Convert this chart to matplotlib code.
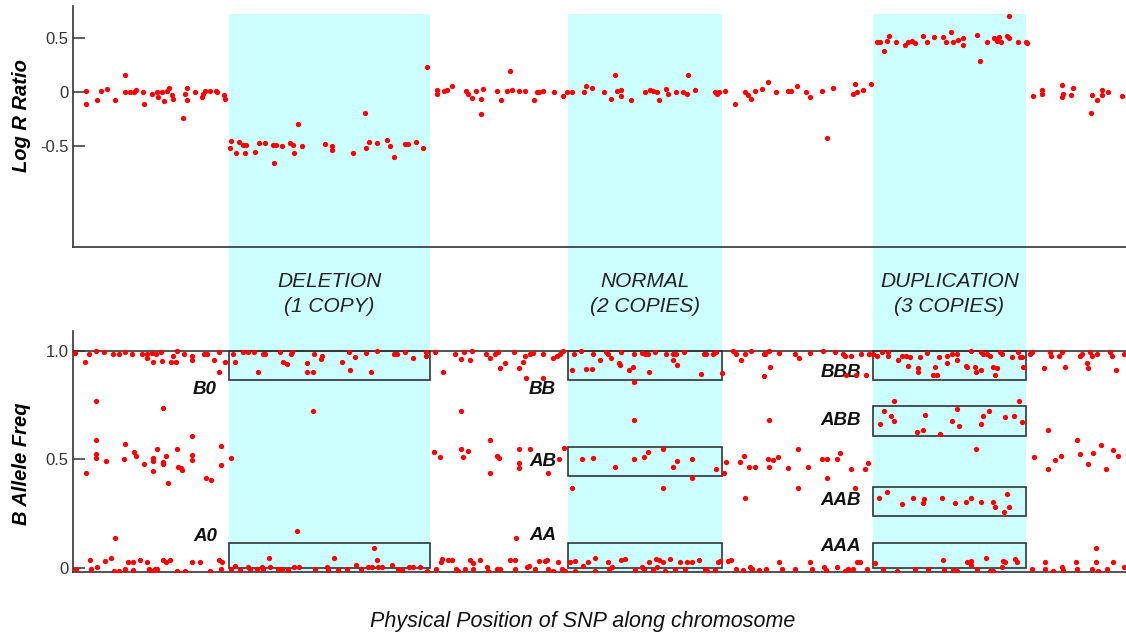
import matplotlib.pyplot as plt
from matplotlib.patches import Rectangle
from matplotlib.transforms import blended_transform_factory

plt.rcParams['font.family'] = ['Liberation Sans', 'DejaVu Sans']

# SNP positions (arbitrary units along chromosome) and Log R Ratio
lrr_pos = [13, 13, 24, 28, 34, 42, 52, 52, 57, 61, 63, 70, 71, 79, 84, 85, 89, 91, 94, 96,
           99, 100, 110, 112, 114, 114, 122, 129, 130, 132, 137, 143, 144, 151, 152,
           158, 157, 163, 166, 170, 172, 173, 182, 186, 192, 200, 201, 203, 209, 217, 220,
           221, 225, 229, 252, 259, 259, 280, 292, 293, 296, 304, 314, 317, 321, 332, 335,
           343, 350, 354,
           364, 364, 371, 374, 379, 393, 395, 399, 403, 408, 408, 410, 424, 428, 434, 437,
           439, 446, 452, 461, 464, 466, 470, 481, 490, 494, 499,
           511, 513, 519, 531, 538, 542, 544, 548, 548, 558, 572, 577, 580, 584, 586, 593,
           595, 603, 610, 614, 615, 622, 642, 644, 646,
           652, 662, 672, 675, 678, 682, 689, 695, 703, 715, 718, 724, 733, 737, 749, 754,
           760, 780, 782, 784, 790, 798,
           804, 807, 811, 814, 816, 823, 832, 835, 839, 842, 850, 854, 861, 870, 873, 878,
           880, 885, 890, 890, 904, 907, 914, 921, 924, 926, 928, 934, 936, 936, 945, 953, 954,
           960, 969, 969, 989, 989, 990, 998, 1000, 1018, 1019, 1024, 1029, 1029, 1035, 1049]
lrr_val = [0.01, -0.11, -0.07, 0.01, 0.03, -0.07, 0.16, 0.0, 0.0, 0.0, 0.02, 0.0, -0.11, -0.01,
           0.0, -0.04, 0.0, -0.08, 0.01, 0.04, -0.02, -0.06, -0.24, -0.01, 0.04, -0.07, 0.0,
           -0.04, -0.01, 0.01, 0.01, 0.01, 0.0, -0.02, -0.06,
           -0.45, -0.51, -0.56, -0.46, -0.49, -0.56, -0.49, -0.55, -0.47, -0.47, -0.49, -0.65,
           -0.49, -0.5, -0.47, -0.49, -0.56, -0.29, -0.5, -0.48, -0.5, -0.53, -0.56, -0.19,
           -0.51, -0.46, -0.47, -0.44, -0.5, -0.6, -0.48, -0.48, -0.46, -0.51, 0.24,
           0.02, -0.01, 0.01, 0.02, 0.06, 0.01, -0.01, -0.05, 0.01, -0.2, -0.06, 0.03, 0.01,
           -0.07, 0.01, 0.2, 0.02, 0.01, 0.01, -0.07, 0.0, 0.0, 0.01, 0.0, -0.03, 0.0, 0.0,
           0.0, 0.06, 0.04, 0.0, -0.06, 0.16, 0.01, 0.02, -0.03, -0.07, 0.0, 0.02, 0.01, 0.0,
           -0.07, 0.03, -0.01, 0.0, 0.0, -0.01, 0.16, 0.02, 0.0, -0.01, 0.0,
           0.01, -0.11, 0.0, -0.02, -0.06, 0.01, 0.03, 0.1, 0.0, 0.01, 0.01, 0.06, 0.0, -0.04,
           0.01, -0.42, 0.04, -0.01, 0.08, 0.0, 0.02, 0.08,
           0.47, 0.47, 0.38, 0.48, 0.52, 0.47, 0.44, 0.47, 0.48, 0.46, 0.52, 0.47, 0.51, 0.51,
           0.47, 0.56, 0.47, 0.49, 0.5, 0.44, 0.53, 0.29, 0.47, 0.5, 0.48, 0.51, 0.47, 0.52,
           0.71, 0.5, 0.47, 0.47, 0.46,
           -0.03, 0.02, -0.01, 0.07, -0.04, -0.01, -0.02, 0.04, -0.19, -0.02, -0.07, 0.02,
           -0.02, 0.0, -0.03]

# B Allele Freq
baf_pos = [2, 12, 16, 23, 31, 40, 46, 52, 59, 69, 74, 74, 79, 80, 83, 88, 89, 98, 100, 103,
           104, 111, 119, 119, 131, 134, 141, 146, 146, 152,
           160, 162, 170, 175, 181, 185, 190, 192, 207, 210, 214, 218, 219, 234, 234, 240,
           241, 248, 249, 269, 276, 277, 282, 293, 298, 304, 321, 324, 332, 340, 353, 353, 362,
           23, 90, 240, 23, 52, 119, 84, 104, 61, 23, 23, 63, 119, 148, 93, 51, 33, 80, 80,
           119, 158, 71, 90, 90, 105, 108, 109, 80, 148, 13, 133, 138, 95, 361, 367,
           42, 224, 301,
           3, 17, 18, 24, 32, 38, 41, 46, 52, 55, 60, 60, 67, 74, 76, 79, 82, 84, 90, 93, 97,
           104, 112, 119, 127, 137, 146, 148, 149,
           158, 162, 167, 175, 177, 184, 189, 190, 196, 197, 205, 209, 215, 221, 226, 242,
           254, 255, 261, 265, 274, 283, 288, 295, 299, 304, 305, 309, 319, 325, 329, 336,
           340, 347, 354,
           370, 382, 388, 391, 397, 399, 413, 417, 422, 425, 427, 432, 441, 446, 450, 452,
           453, 457, 460, 470, 470, 480, 484, 487, 490,
           499, 501, 508, 513, 519, 520, 527, 533, 535, 538, 546, 547, 548, 556, 560, 561,
           561, 569, 572, 575, 576, 582, 593, 600, 600, 603, 604, 611, 628, 631, 633, 640,
           643, 649,
           660, 663, 668, 672, 678, 691, 692, 696, 697, 706,
           388, 561, 696, 388, 390, 395, 417, 424, 426, 417, 446, 446, 446, 457, 475, 486, 491,
           499, 509, 520, 542, 561, 571, 575, 590, 590, 600, 604, 619, 619, 643,
           653, 651, 667, 671, 672, 676, 682, 695, 696, 700, 705, 715, 443,
           363, 368, 369, 375, 379, 383, 385, 392, 397, 400, 400, 407, 414, 415, 424, 427,
           437, 442, 442, 454, 456, 462, 466, 472, 474, 475, 480, 485, 489, 492,
           497, 502, 502, 510, 515, 522, 522, 535, 536, 539, 548, 552, 562, 569, 571, 576,
           580, 583, 584, 586, 590, 592, 597, 602, 607, 612, 614, 619, 626, 632, 634, 642,
           645, 647,
           655, 658, 663, 670, 677, 679, 686, 693, 706, 709,
           691, 722, 726, 737, 750, 762, 770, 772, 773, 778, 783, 788, 793, 796,
           800, 804, 809, 815, 815, 825, 829, 833, 835, 837, 845, 845, 847, 854, 860, 862,
           864, 866, 874, 874, 879, 884, 884, 893, 894, 898, 902, 903, 908, 908, 910, 914,
           917, 920, 922, 924, 927, 929, 939, 945, 947, 949, 950,
           957, 959, 971, 977, 978, 986, 989, 992, 1007, 1009, 1014, 1015, 1017, 1019, 1024,
           1037, 1039, 1043, 1051,
           725, 735, 749, 754, 764, 767, 778, 792, 795, 754, 725, 782,
           821, 811, 818, 821, 807, 852, 884, 879, 886, 916, 910, 908, 932, 941, 946, 949,
           844, 850, 867, 903,
           806, 814, 829, 840, 850, 851, 869, 882, 893, 898, 908, 920, 922, 934, 936, 931,
           975, 1004, 1028, 961, 988, 982, 1007, 1020, 1040, 1045, 1015, 975, 1033, 1023,
           722, 737, 739, 751, 753, 764, 772, 775, 780, 784, 787, 794,
           802, 810, 824, 842, 855, 870, 871, 880, 884, 894, 898, 898, 904, 913, 917, 920,
           929, 930, 932, 942, 944,
           959, 972, 972, 980, 989, 990, 1003, 1004, 1019, 1023, 1025, 1034, 1040, 1051]
baf_val = [0.99, 0.946, 0.986, 0.997, 0.994, 0.982, 0.982, 0.992, 0.982, 0.982, 0.986, 0.966,
           0.989, 0.946, 0.986, 0.992, 0.951, 0.946, 0.977, 0.946, 1.0, 0.982, 0.974, 0.955,
           0.986, 0.982, 0.955, 0.992, 0.90, 0.946,
           0.982, 0.946, 0.992, 0.992, 0.992, 0.90, 0.982, 0.982, 0.992, 0.946, 0.939, 0.982,
           0.992, 0.943, 0.90, 0.90, 0.985, 0.962, 0.977, 0.946, 0.992, 0.912, 0.971, 0.989,
           0.90, 1.0, 0.982, 0.986, 0.992, 0.966, 0.992, 0.974, 0.992,
           0.77, 0.736, 0.724, 0.59, 0.57, 0.605, 0.548, 0.548, 0.536, 0.524, 0.508, 0.516,
           0.521, 0.559, 0.516, 0.502, 0.493, 0.505, 0.493, 0.495, 0.508, 0.478, 0.487, 0.478,
           0.467, 0.459, 0.449, 0.447, 0.472, 0.436, 0.416, 0.406, 0.39, 0.536, 0.513,
           0.137, 0.17, 0.091,
           -0.006, 0.037, -0.006, 0.003, 0.034, 0.045, -0.012, -0.012, -0.006, 0.029, 0.029,
           -0.009, 0.037, 0.029, -0.006, -0.012, -0.006, -0.006, 0.037, 0.029, 0.037, -0.012,
           -0.012, 0.029, 0.029, -0.012, 0.037, -0.002, 0.029,
           -0.006, 0.009, -0.009, 0.003, -0.006, -0.006, 0.006, -0.006, 0.045, 0.003, -0.006,
           -0.006, -0.009, 0.003, 0.003, -0.006, 0.003, -0.009, 0.048, -0.009, -0.006, 0.014,
           -0.002, 0.003, 0.003, 0.037, 0.003, 0.003, 0.014, -0.006, -0.009, 0.003, 0.003,
           0.006, -0.012,
           0.90, 0.986, 0.959, 0.992, 0.955, 0.997, 0.986, 0.966, 0.986, 0.992, 0.92, 0.943,
           0.992, 0.92, 0.946, 0.977, 0.874, 0.986, 0.989, 0.982, 0.874, 0.966, 0.977, 0.986,
           0.997,
           0.909, 0.982, 1.0, 0.916, 0.916, 0.982, 0.955, 0.992, 0.986, 0.966, 0.943, 0.935,
           0.992, 0.909, 0.925, 0.982, 0.854, 0.989, 0.986, 0.982, 0.90, 0.992, 0.982, 0.982,
           0.955, 0.982, 0.935, 0.992, 0.892, 0.982, 0.982, 0.986, 0.992, 0.897,
           0.997, 0.982, 0.955, 0.986, 0.997, 0.885, 0.986, 0.997, 0.925, 0.989,
           0.723, 0.679, 0.679, 0.547, 0.51, 0.539, 0.59, 0.516, 0.508, 0.436, 0.547, 0.485,
           0.459, 0.547, 0.436, 0.501, 0.551,
           0.367, 0.501, 0.505, 0.467, 0.501, 0.51, 0.536, 0.547, 0.367, 0.467, 0.493, 0.501,
           0.413, 0.456,
           0.487, 0.436, 0.487, 0.516, 0.324, 0.467, 0.467, 0.502, 0.467, 0.495, 0.51, 0.462,
           0.137,
           -0.002, 0.029, 0.04, 0.037, 0.037, -0.006, -0.012, -0.006, 0.037, 0.022, -0.006,
           0.037, 0.003, -0.012, -0.006, -0.006, 0.037, 0.037, -0.006, 0.003, 0.009, -0.006,
           0.034, 0.034, 0.037, -0.006, -0.012, 0.029, -0.006, -0.012,
           0.029, 0.034, -0.012, 0.009, 0.029, 0.045, -0.012, 0.029, -0.006, 0.003, 0.037,
           0.04, -0.009, 0.003, -0.006, 0.029, -0.009, 0.04, 0.003, 0.037, 0.029, -0.012, 0.04,
           -0.006, 0.029, -0.002, 0.029, 0.029, 0.037, -0.006, -0.012, -0.009, 0.029, 0.034,
           0.034, 0.037, -0.006, -0.009, 0.006, -0.002, -0.009, -0.006, 0.029, -0.006,
           0.982, 0.982, 0.966, 0.989, 0.997, 0.992, 0.982, 0.977, 0.889, 0.977, 0.889, 0.982,
           0.889, 0.982,
           0.982, 0.977, 0.992, 0.992, 0.977, 0.955, 0.974, 0.977, 0.931, 0.971, 0.92, 0.90,
           0.971, 0.989, 0.886, 0.925, 0.886, 0.971, 0.974, 0.943, 0.982, 0.982, 0.955, 0.931,
           0.925, 1.0, 0.925, 0.90, 0.992, 0.912, 0.982, 0.986, 0.977, 0.925, 0.889, 0.92,
           0.992, 0.986, 0.971, 0.992, 0.971, 0.971, 0.925,
           0.982, 0.992, 0.92, 0.992, 0.974, 0.977, 0.992, 0.923, 0.974, 0.982, 0.943, 0.92,
           0.992, 0.977, 0.986, 0.992, 0.977, 0.912, 0.986,
           0.547, 0.467, 0.501, 0.501, 0.501, 0.531, 0.456, 0.456, 0.485, 0.413, 0.367, 0.367,
           0.77, 0.723, 0.70, 0.674, 0.664, 0.705, 0.731, 0.677, 0.654, 0.723, 0.697, 0.664,
           0.693, 0.697, 0.77, 0.67, 0.625, 0.636, 0.617, 0.547,
           0.324, 0.352, 0.295, 0.324, 0.301, 0.316, 0.324, 0.301, 0.303, 0.324, 0.303, 0.306,
           0.28, 0.339, 0.28, 0.257,
           0.636, 0.59, 0.567, 0.513, 0.516, 0.495, 0.524, 0.528, 0.541, 0.516, 0.479, 0.456,
           0.456, 0.091,
           -0.006, 0.029, -0.006, 0.003, -0.009, 0.003, -0.012, -0.006, -0.006, 0.029, 0.029,
           -0.006,
           0.022, -0.002, -0.012, -0.006, -0.006, 0.037, -0.009, -0.009, -0.012, 0.029, 0.034,
           0.014, -0.006, 0.045, -0.012, -0.012, 0.003, 0.034, 0.029, 0.04, 0.029,
           -0.002, 0.029, -0.006, -0.012, 0.006, -0.009, 0.029, -0.006, -0.006, 0.029, -0.012,
           -0.006, 0.029, 0.003]

# copy-number regions: (start, end, title)
regions = [(156, 357, 'DELETION\n(1 COPY)'),
           (495, 649, 'NORMAL\n(2 COPIES)'),
           (800, 953, 'DUPLICATION\n(3 COPIES)')]
# expected genotype clusters in each region: (label, low, high)
clusters = [[('B0', 0.866, 1.0), ('A0', 0.0, 0.117)],
            [('BB', 0.866, 1.0), ('AB', 0.425, 0.555), ('AA', 0.0, 0.117)],
            [('BBB', 0.866, 1.0), ('ABB', 0.608, 0.743), ('AAB', 0.24, 0.375), ('AAA', 0.0, 0.117)]]
label_y = {'B0': 0.82, 'A0': 0.145, 'BB': 0.82, 'AB': 0.49, 'AA': 0.152,
           'BBB': 0.90, 'ABB': 0.68, 'AAB': 0.313, 'AAA': 0.098}

W, H = 1126, 637
fig = plt.figure(figsize=(W / 100, H / 100), dpi=100)
ax1 = fig.add_axes([73 / W, 1 - 247 / H, 1 - 73 / W, (247 - 6) / H])
ax2 = fig.add_axes([73 / W, 1 - 572 / H, 1 - 73 / W, (572 - 331) / H])

for ax in (ax1, ax2):
    ax.set_facecolor('none')
    ax.set_xlim(0, 1053)
    ax.spines['top'].set_visible(False)
    ax.spines['right'].set_visible(False)
    for s in ('left', 'bottom'):
        ax.spines[s].set_color('#333333')
        ax.spines[s].set_linewidth(1.2)
    ax.set_xticks([])
    ax.tick_params(axis='y', direction='in', length=8.5, width=1.1, color='#333333',
                   labelsize=12, labelcolor='#333333', pad=3)

# cyan bands spanning both panels
trans = blended_transform_factory(ax1.transData, fig.transFigure)
for start, end, title in regions:
    fig.add_artist(Rectangle((start, 1 - 572 / H), end - start, (572 - 14) / H,
                             transform=trans, facecolor='#ccffff', edgecolor='none', zorder=-1))
    ax1.text((start + end) / 2, 1 - 293.5 / H, title, transform=trans, ha='center',
             va='center', fontsize=15, style='italic', color='#222222', linespacing=1.4)

ax1.plot(lrr_pos, lrr_val, 'o', color='#ff0000', ms=3.8, mec='none', zorder=3)
ax1.set_ylim(-1.43, 0.80)
ax1.set_yticks([-0.5, 0, 0.5])
ax1.set_yticklabels(['-0.5', '0', '0.5'])
ax1.set_ylabel('Log R Ratio', fontsize=14.5, style='italic', fontweight='bold')
ax1.yaxis.set_label_coords(-0.04, 0.545)

ax2.axhline(1.0, color='#333333', lw=1.2, zorder=2)
for (start, end, title), boxes in zip(regions, clusters):
    for name, lo, hi in boxes:
        ax2.add_patch(Rectangle((start, lo), end - start, hi - lo, fill=False,
                                edgecolor='#333333', lw=1.2, zorder=2))
        ax2.text(start - 12, label_y[name], name, ha='right', va='center', fontsize=13.5,
                 style='italic', fontweight='bold', color='#111111')
ax2.plot(baf_pos, baf_val, 'o', color='#ff0000', ms=3.8, mec='none', zorder=3)
ax2.set_ylim(-0.018, 1.09)
ax2.set_yticks([0, 0.5, 1.0])
ax2.set_yticklabels(['0', '0.5', '1.0'])
ax2.set_ylabel('B Allele Freq', fontsize=14.5, style='italic', fontweight='bold')
ax2.yaxis.set_label_coords(-0.04, 0.45)

fig.text(583 / W, 1 - 621 / H, 'Physical Position of SNP along chromosome',
         ha='center', va='center', fontsize=15.5, style='italic', color='#111111')

fig.savefig('out.png', dpi=100)
